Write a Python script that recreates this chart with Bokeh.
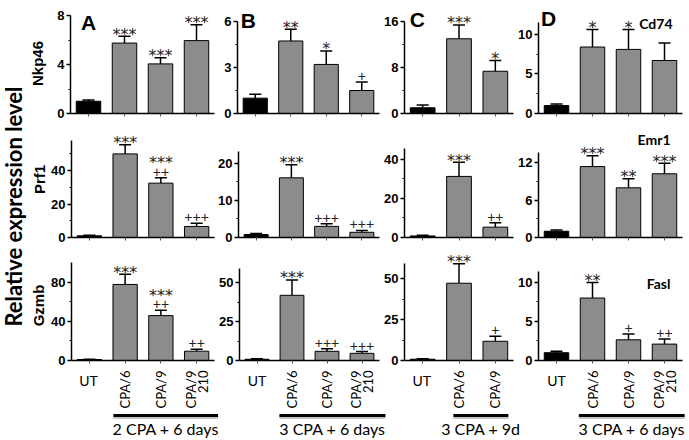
import math
from bokeh.plotting import figure
from bokeh.models import FixedTicker, Whisker, TeeHead, ColumnDataSource, Range1d
from bokeh.layouts import row, column
from bokeh.embed import file_html
from bokeh.resources import INLINE
from bokeh.core.properties import value

# ---------------- data ----------------
groups_4 = ["UT", "CPA/6", "CPA/9", "CPA/9 210"]
groups_3 = ["UT", "CPA/6", "CPA/9"]
genes_left = ["Nkp46", "Prf1", "Gzmb"]
genes_right = ["Cd74", "Emr1", "Fasl"]
panel_letters = ["A", "B", "C", "D"]
regimens = ["2 CPA + 6 days", "3 CPA + 6 days", "3 CPA + 9d", "3 CPA + 6 days"]
y_title = "Relative expression level"

# Column A: 2 CPA + 6 days
a_nkp46 = [1.0, 5.75, 4.05, 5.95]
a_nkp46_err = [0.1, 0.55, 0.5, 1.3]
a_nkp46_stars = ["", "***", "***", "***"]
a_nkp46_plus = ["", "", "", ""]
a_prf1 = [1.0, 50.0, 32.5, 6.6]
a_prf1_err = [0.3, 5.5, 3.2, 1.9]
a_prf1_stars = ["", "***", "***", ""]
a_prf1_plus = ["", "", "++", "+++"]
a_gzmb = [1.0, 77.6, 45.8, 9.5]
a_gzmb_err = [0.3, 10.3, 5.5, 2.0]
a_gzmb_stars = ["", "***", "***", ""]
a_gzmb_plus = ["", "", "++", "++"]

# Column B: 3 CPA + 6 days
b_nkp46 = [1.0, 4.73, 3.2, 1.5]
b_nkp46_err = [0.25, 0.77, 0.88, 0.55]
b_nkp46_stars = ["", "**", "*", ""]
b_nkp46_plus = ["", "", "", "+"]
b_prf1 = [0.8, 16.1, 3.0, 1.4]
b_prf1_err = [0.3, 3.5, 0.7, 0.5]
b_prf1_stars = ["", "***", "", ""]
b_prf1_plus = ["", "", "+++", "+++"]
b_gzmb = [0.8, 41.8, 5.9, 4.6]
b_gzmb_err = [0.3, 9.9, 1.7, 1.1]
b_gzmb_stars = ["", "***", "", ""]
b_gzmb_plus = ["", "", "+++", "+++"]

# Column C: 3 CPA + 9d
c_nkp46 = [1.0, 13.0, 7.35]
c_nkp46_err = [0.5, 2.4, 1.85]
c_nkp46_stars = ["", "***", "*"]
c_nkp46_plus = ["", "", ""]
c_prf1 = [0.8, 31.3, 5.3]
c_prf1_err = [0.4, 7.3, 2.2]
c_prf1_stars = ["", "***", ""]
c_prf1_plus = ["", "", "++"]
c_gzmb = [0.8, 47.4, 11.8]
c_gzmb_err = [0.3, 11.9, 3.0]
c_gzmb_stars = ["", "***", ""]
c_gzmb_plus = ["", "", "+"]

# Column D: 3 CPA + 6 days
d_cd74 = [1.0, 8.4, 8.1, 6.7]
d_cd74_err = [0.2, 2.2, 2.5, 2.2]
d_cd74_stars = ["", "*", "*", ""]
d_cd74_plus = ["", "", "", ""]
d_emr1 = [1.0, 11.35, 7.95, 10.2]
d_emr1_err = [0.2, 1.75, 1.45, 1.7]
d_emr1_stars = ["", "***", "**", "***"]
d_emr1_plus = ["", "", "", ""]
d_fasl = [1.0, 8.0, 2.65, 2.1]
d_fasl_err = [0.2, 2.0, 0.75, 0.65]
d_fasl_stars = ["", "**", "", ""]
d_fasl_plus = ["", "", "+", "++"]

# y-axis extents and tick values (rows: Nkp46/Cd74, Prf1/Emr1, Gzmb/Fasl)
y_max = [[8, 6, 16, 11.5], [58, 23.2, 45.6, 13.6], [100, 59, 59.5, 11.4]]
y_ticks = [[[0, 4, 8], [0, 3, 6], [0, 8, 16], [0, 5, 10]],
           [[0, 20, 40], [0, 10, 20], [0, 20, 40], [0, 6, 12]],
           [[0, 40, 80], [0, 25, 50], [0, 25, 50], [0, 5, 10]]]
y_minor = [[[2, 6], [1.5, 4.5], [4, 12], [2.5, 7.5]],
           [[10, 30, 50], [5, 15], [10, 30], [3, 9]],
           [[20, 60], [12.5, 37.5], [12.5, 37.5], [2.5, 7.5]]]

panels = [
    [(a_nkp46, a_nkp46_err, a_nkp46_stars, a_nkp46_plus),
     (b_nkp46, b_nkp46_err, b_nkp46_stars, b_nkp46_plus),
     (c_nkp46, c_nkp46_err, c_nkp46_stars, c_nkp46_plus),
     (d_cd74, d_cd74_err, d_cd74_stars, d_cd74_plus)],
    [(a_prf1, a_prf1_err, a_prf1_stars, a_prf1_plus),
     (b_prf1, b_prf1_err, b_prf1_stars, b_prf1_plus),
     (c_prf1, c_prf1_err, c_prf1_stars, c_prf1_plus),
     (d_emr1, d_emr1_err, d_emr1_stars, d_emr1_plus)],
    [(a_gzmb, a_gzmb_err, a_gzmb_stars, a_gzmb_plus),
     (b_gzmb, b_gzmb_err, b_gzmb_stars, b_gzmb_plus),
     (c_gzmb, c_gzmb_err, c_gzmb_stars, c_gzmb_plus),
     (d_fasl, d_fasl_err, d_fasl_stars, d_fasl_plus)],
]
col_groups = [groups_4, groups_4, groups_3, groups_4]

# ---------------- layout / style (page pixel positions) ----------------
BAR_GRAY = "#8c8c8c"
TICK_FONT = "Liberation Sans"
LABEL_FONT = "Lato"
STAR_FONT = "DejaVu Sans"
MARK_COLOR = "#222222"

LEFT_W = 48
row_geom = [(0, 128, 113), (128, 250, 237), (250, 369, 360)]   # fig top, fig bottom, zero line
LABEL_ROW = (369, 439)
axis_tops = [[15, 21, 21, 22], [140, 151, 148, 152], [262, 268, 263, 271]]
fig_x = [(48, 215), (215, 381), (381, 514), (514, 688)]
axis_x = [[(70, 214), (237, 379), (403, 513), (538, 682)],
          [(70, 214), (237, 379), (403, 513), (538, 682)],
          [(70, 214), (239, 379), (403, 513), (538, 682)]]
label_fig_x = [(48, 222), (222, 390), (390, 525), (525, 688)]
gene_l_pos = [(36.5, 63), (39, 179), (37.5, 305)]     # centre of rotated gene names
title_pos = (12.5, 206)
letter_dx = [0, -7, -5.5, -8]
letter_dy = [-7, 1, 2, 4]
gene_r_dx = [8, 6, 6]
gene_r_dy = [-1, 13, -12]
bracket = [(1.69, 4.6), (1.64, 4.67), (1.86, 3.36), (1.62, 4.56)]


def style_blank(p):
    p.outline_line_color = None
    p.background_fill_color = "white"
    p.border_fill_color = "white"
    p.xgrid.visible = False
    p.ygrid.visible = False


def make_panel(r, c):
    vals, errs, stars, plus = panels[r][c]
    n = len(vals)
    fig_top, fig_bot, zero = row_geom[r]
    fl, fr = fig_x[c]
    ax0, ax1 = axis_x[r][c]
    ytop = axis_tops[r][c]
    ymax = y_max[r][c]
    ppu = (zero - ytop) / ymax          # pixels per data unit (y)
    ppx = (ax1 - ax0) / n               # pixels per category (x)
    p = figure(width=fr - fl, height=fig_bot - fig_top,
               x_range=Range1d(0.5, 0.5 + (fr - ax0) / ppx),
               y_range=Range1d(0, (zero - fig_top) / ppu),
               min_border_left=ax0 - fl, min_border_right=0,
               min_border_top=0, min_border_bottom=fig_bot - zero,
               output_backend="svg", toolbar_location=None, tools="")
    style_blank(p)

    xs = list(range(1, n + 1))
    upper = [v + e for v, e in zip(vals, errs)]
    colors = ["black"] + [BAR_GRAY] * (n - 1)
    src = ColumnDataSource(dict(x=xs, top=vals, upper=upper, color=colors))
    p.vbar(x="x", top="top", bottom=0, width=0.68, fill_color="color",
           line_color="black", line_width=1, source=src)
    p.add_layout(Whisker(source=src, base="x", lower="top", upper="upper",
                         lower_head=None,
                         upper_head=TeeHead(size=12, line_width=1.5, line_color="black"),
                         line_width=1.5, line_color="black"))

    s1 = dict(x=[], y=[], t=[])
    pl = dict(x=[], y=[], t=[])
    s2 = dict(x=[], y=[], t=[])
    for i in range(n):
        if plus[i]:
            pl["x"].append(xs[i]); pl["y"].append(upper[i] + 6 / ppu); pl["t"].append(plus[i])
            if stars[i]:
                s2["x"].append(xs[i]); s2["y"].append(upper[i] + 15 / ppu); s2["t"].append(stars[i])
        elif stars[i]:
            s1["x"].append(xs[i]); s1["y"].append(upper[i] + 2 / ppu); s1["t"].append(stars[i])
    for dat, font, size in [(s1, STAR_FONT, "16px"), (pl, TICK_FONT, "14px"),
                            (s2, STAR_FONT, "16px")]:
        if dat["x"]:
            p.text(x="x", y="y", text="t", source=ColumnDataSource(dat),
                   text_align="center", text_baseline="alphabetic",
                   text_font=value(font), text_font_size=value(size),
                   text_color=MARK_COLOR)

    ya = p.yaxis[0]
    ya.bounds = (0, ymax)
    ya.ticker = FixedTicker(ticks=y_ticks[r][c], minor_ticks=y_minor[r][c])
    ya.major_tick_in = 0
    ya.major_tick_out = 4
    ya.minor_tick_in = 0
    ya.minor_tick_out = 2
    ya.axis_line_width = 1.5
    ya.major_tick_line_width = 1.5
    ya.axis_line_color = "black"
    ya.major_label_text_font = TICK_FONT
    ya.major_label_text_font_style = "bold"
    ya.major_label_text_font_size = "13px"
    ya.major_label_text_color = "black"
    ya.major_label_standoff = 2

    # x axis: only small unlabelled marks under each bar
    xa = p.xaxis[0]
    xa.bounds = (0.5, n + 0.5)
    xa.ticker = FixedTicker(ticks=[], minor_ticks=xs)
    xa.minor_tick_in = 0
    xa.minor_tick_out = 3
    xa.minor_tick_line_color = "#555555"
    xa.major_tick_line_color = None
    xa.axis_line_width = 1.5
    xa.axis_line_color = "black"

    if r == 0:
        p.text(x=[1 + letter_dx[c] / ppx], y=[ymax + letter_dy[c] / ppu],
               text=[panel_letters[c]], text_align="center", text_baseline="alphabetic",
               text_font=value(TICK_FONT), text_font_style="bold",
               text_font_size=value("21px"), text_color="black")
    if c == 3:
        p.text(x=[n + gene_r_dx[r] / ppx], y=[ymax + gene_r_dy[r] / ppu],
               text=[genes_right[r]], text_align="right", text_baseline="alphabetic",
               text_font=value(LABEL_FONT), text_font_style="bold",
               text_font_size=value("14px"), text_color="black")
    return p, ppx


def make_labels(c, ppx):
    """Category labels, regimen bracket and regimen name under a column."""
    groups = col_groups[c]
    fl, fr = label_fig_x[c]
    ax0 = axis_x[2][c][0]
    zero = row_geom[2][2]
    top, bot = LABEL_ROW
    p = figure(width=fr - fl, height=bot - top,
               x_range=Range1d(0.5 - (ax0 - fl) / ppx, 0.5 + (fr - ax0) / ppx),
               y_range=Range1d(-(bot - zero), -(top - zero)),   # pixels below the zero line
               x_axis_type=None, y_axis_type=None, min_border=0,
               output_backend="svg", toolbar_location=None, tools="")
    style_blank(p)
    for i, g in enumerate(groups):
        if g == "UT":
            p.text(x=[i + 1], y=[-20], text=[g], text_align="center",
                   text_baseline="alphabetic", text_font=value(LABEL_FONT),
                   text_font_size=value("14px"), text_color="black")
        else:
            parts = g.split(" ")
            for k, part in enumerate(parts):
                dx = (k - (len(parts) - 1) / 2) * 12
                p.text(x=[i + 1 + dx / ppx], y=[-10], text=[part], angle=math.pi / 2,
                       text_align="right", text_baseline="middle",
                       text_font=value(LABEL_FONT), text_font_size=value("13px"),
                       text_color="black")
    x0, x1 = bracket[c]
    p.segment(x0=[x0], y0=[-57.5], x1=[x1], y1=[-57.5], line_width=2, line_color="#c4c4c4")
    p.segment(x0=[x0], y0=[-55], x1=[x1], y1=[-55], line_width=3, line_color="black")
    p.text(x=[(x0 + x1) / 2], y=[-68], text=[regimens[c]], text_align="center",
           text_baseline="alphabetic", text_font=value(LABEL_FONT),
           text_font_size=value("16px"), text_color="black")
    return p


rows = []
last_ppx = []
for r in range(3):
    figs = []
    for c in range(4):
        p, ppx = make_panel(r, c)
        figs.append(p)
        if r == 2:
            last_ppx.append(ppx)
    rows.append(row(*figs))
rows.append(row(*[make_labels(c, last_ppx[c]) for c in range(4)]))

H = LABEL_ROW[1]
left = figure(width=LEFT_W, height=H, x_range=Range1d(0, LEFT_W), y_range=Range1d(0, H),
              x_axis_type=None, y_axis_type=None, min_border=0,
              output_backend="svg", toolbar_location=None, tools="")
style_blank(left)
left.text(x=[title_pos[0]], y=[H - title_pos[1]], text=[y_title], angle=math.pi / 2,
          text_align="center", text_baseline="middle", text_font=value(LABEL_FONT),
          text_font_style="bold", text_font_size=value("22px"), text_color="black")
left.text(x=[g[0] for g in gene_l_pos], y=[H - g[1] for g in gene_l_pos], text=genes_left,
          angle=math.pi / 2, text_align="center", text_baseline="middle",
          text_font=value(TICK_FONT), text_font_style="bold",
          text_font_size=value("15px"), text_color="black")

layout = row(left, column(*rows))
open("out.html", "w").write(file_html(layout, INLINE))
